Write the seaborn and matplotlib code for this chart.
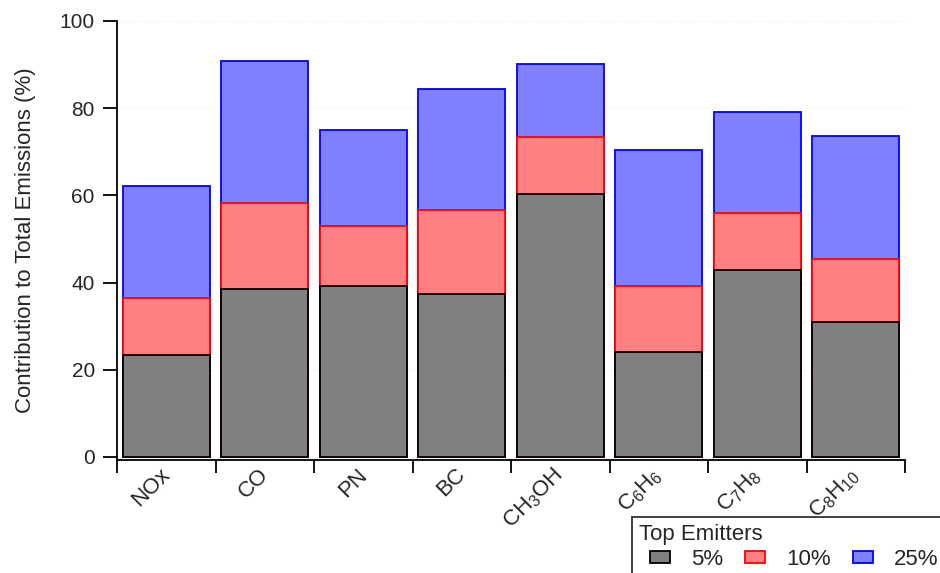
import matplotlib
matplotlib.use("Agg")
import matplotlib.pyplot as plt
from matplotlib.patches import Patch, Rectangle
from matplotlib.legend_handler import HandlerPatch
from matplotlib.transforms import ScaledTranslation
import seaborn as sns
import pandas as pd
import numpy as np

# Share of total emissions from the top 5 / 10 / 25 % of emitters
species = ["NOx", "CO", "PN", "BC", r"CH$_3$OH", r"C$_6$H$_6$", r"C$_7$H$_8$", r"C$_8$H$_{10}$"]
top5 = [23.5, 38.5, 39.1, 37.4, 60.4, 24.0, 42.8, 31.0]
top10 = [36.5, 58.3, 53.0, 56.7, 73.4, 39.2, 56.0, 45.3]
top25 = [62.2, 90.8, 75.1, 84.3, 90.1, 70.4, 79.1, 73.7]
groups = ["5%", "10%", "25%"]

fills = {"5%": "#808080", "10%": "#ff8080", "25%": "#8080ff"}
edges = {"5%": "#000000", "10%": "#ff0000", "25%": "#0000ff"}

sns.set_style("white")
plt.rcParams["font.family"] = ["Liberation Sans", "DejaVu Sans"]
plt.rcParams["mathtext.fontset"] = "custom"
plt.rcParams["mathtext.rm"] = "Liberation Sans"
plt.rcParams["mathtext.it"] = "Liberation Sans"

df = pd.DataFrame({"species": species, "5%": top5, "10%": top10, "25%": top25})

fig = plt.figure(figsize=(9.4, 5.73), dpi=100)
ax = fig.add_axes([117 / 940, 1 - 460 / 573, (905 - 117) / 940, (460 - 21) / 573])

# cumulative shares: draw the widest group first so smaller ones overlay it
for g in ["25%", "10%", "5%"]:
    sns.barplot(data=df, x="species", y=g, ax=ax, color=fills[g], width=0.88,
                edgecolor=edges[g], linewidth=1.3, saturation=1, order=species)

ax.set_xlim(-0.5, len(species) - 0.5)
ax.set_ylim(-0.7, 100)
ax.set_yticks([0, 20, 40, 60, 80, 100])
ax.yaxis.grid(True, color="#eeeeee", linestyle=":", linewidth=0.8)
ax.set_axisbelow(True)

for s in ["top", "right"]:
    ax.spines[s].set_visible(False)
for s in ["left", "bottom"]:
    ax.spines[s].set_color("black")
    ax.spines[s].set_linewidth(1.3)

ax.tick_params(axis="y", which="major", direction="out", length=10, width=1.3,
               labelsize=15, pad=6, left=True, color="black")
ax.set_ylabel("Contribution to Total Emissions (%)", fontsize=16, labelpad=17)
ax.set_xlabel("")

# category boundaries carry the tick marks; names sit at the centres
ax.set_xticks(np.arange(-0.5, len(species), 1.0))
ax.set_xticklabels([])
ax.tick_params(axis="x", which="major", direction="out", length=9, width=1.3,
               bottom=True, color="black")
ax.set_xticks(np.arange(len(species)), minor=True)
ax.set_xticklabels(species, minor=True, rotation=45, ha="right", va="top",
                   fontsize=16)
ax.tick_params(axis="x", which="minor", length=0, pad=6)
shift = ScaledTranslation(0.08, 0.04, fig.dpi_scale_trans)
for lab in ax.get_xticklabels(minor=True):
    lab.set_transform(lab.get_transform() + shift)


def offset_box(legend, orig_handle, xdescent, ydescent, width, height, fontsize):
    # small swatch pushed to the right end of the handle slot
    w, h = 14.4, 8.6
    return Rectangle((-xdescent + width - w, -ydescent + (height - h) / 2), w, h)


handles = [Patch(facecolor=fills[g], edgecolor=edges[g], linewidth=1.3, label=g)
           for g in groups]
leg = fig.legend(handles=handles, title="Top Emitters", ncol=3,
                 loc="upper left", bbox_to_anchor=(632 / 940, 1 - 517 / 573),
                 fontsize=16, title_fontsize=16, frameon=True, fancybox=False,
                 edgecolor="black", handlelength=1.4, handleheight=0.7,
                 columnspacing=0.5, handletextpad=0.95, borderpad=0.3,
                 labelspacing=0.2, borderaxespad=0,
                 handler_map={Patch: HandlerPatch(patch_func=offset_box)})
leg.get_frame().set_linewidth(1.3)
leg._legend_box.align = "left"

fig.savefig("out.png", dpi=100)
